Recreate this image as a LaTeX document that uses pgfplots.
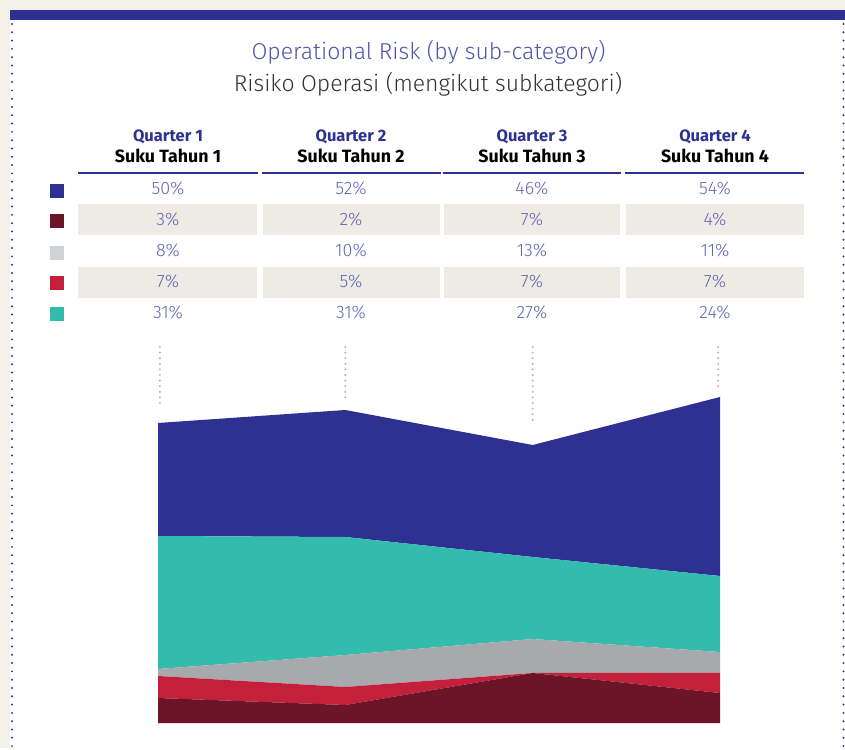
\documentclass[border=0pt]{standalone}
\usepackage{pgfplots}
\pgfplotsset{compat=1.18}
\usepackage{fontspec}
\setmainfont{Fira Sans}
\newfontfamily\lightfont{Fira Sans Light}
\newcommand\boldfont{\bfseries}

\definecolor{bgbeige}{HTML}{F3F0E7}
\definecolor{topblue}{HTML}{2E3192}
\definecolor{titleblue}{HTML}{5054AC}
\definecolor{pctblue}{HTML}{6367B4}
\definecolor{darktext}{HTML}{333333}
\definecolor{rowbeige}{HTML}{EEEBE5}
\definecolor{cmaroon}{HTML}{6C1529}
\definecolor{cred}{HTML}{C41F3B}
\definecolor{cgray}{HTML}{A7A9AC}
\definecolor{clgray}{HTML}{D1D2D4}
\definecolor{cteal}{HTML}{33BCAE}
\definecolor{dotgray}{HTML}{B4B4B4}

\begin{document}
\begin{tikzpicture}[x=1pt,y=1pt]
  % page and frame
  \fill[white] (0,0) rectangle (845,748);
  \fill[bgbeige] (0,738) rectangle (845,748);
  \fill[bgbeige] (0,0) rectangle (10,748);
  \fill[topblue] (10,727.5) rectangle (845,738);
  \draw[topblue, line width=2.2pt, line cap=round, dash pattern=on 0pt off 8.3pt] (12,724) -- (12,0);
  \draw[topblue, line width=2.2pt, line cap=round, dash pattern=on 0pt off 8.3pt] (843.5,724) -- (843.5,0);

  % titles
  \node[anchor=base, text=titleblue, font=\lightfont\fontsize{23}{26}\selectfont] at (428.5,688) {Operational Risk (by sub-category)};
  \node[anchor=base, text=darktext, font=\lightfont\fontsize{23}{26}\selectfont] at (428,656) {Risiko Operasi (mengikut subkategori)};

  % table header
  \foreach \cx/\q in {168/1,351/2,532/3,715/4} {
    \node[anchor=base, text=topblue, font=\boldfont\fontsize{16.5}{18}\selectfont] at (\cx,606) {Quarter \q};
    \node[anchor=base, text=black, font=\boldfont\fontsize{17.8}{20}\selectfont] at (\cx,585) {Suku Tahun \q};
  }
  \foreach \ra/\rb in {78/258,262/441,443/621,625/804}
    \fill[topblue] (\ra,574) rectangle (\rb,576);

  % shaded rows
  \foreach \ra/\rb in {78/257,263/440,444/620,626/804} {
    \fill[rowbeige] (\ra,513) rectangle (\rb,544);
    \fill[rowbeige] (\ra,450) rectangle (\rb,481);
  }

  % legend squares
  \fill[topblue] (50,550) rectangle (64,564);
  \fill[cmaroon] (50,519.5) rectangle (64,533.5);
  \fill[clgray]  (50,487.5) rectangle (64,501.5);
  \fill[cred]    (50,458) rectangle (64,472);
  \fill[cteal]   (50,427) rectangle (64,441);

  % percentages
  \tikzset{pct/.style={anchor=base, text=pctblue, font=\lightfont\fontsize{18}{20}\selectfont}}
  \foreach \cx/\va/\vb/\vc/\vd/\ve in {168/50/3/8/7/31, 351/52/2/10/5/31, 532/46/7/13/7/27, 715/54/4/11/7/24} {
    \node[pct] at (\cx,553) {\va\%};
    \node[pct] at (\cx,522) {\vb\%};
    \node[pct] at (\cx,491) {\vc\%};
    \node[pct] at (\cx,460) {\vd\%};
    \node[pct] at (\cx,429) {\ve\%};
  }

  \begin{axis}[
      at={(158pt,25pt)}, anchor=south west,
      scale only axis, width=562pt, height=376pt,
      xmin=0, xmax=3, ymin=0, ymax=376,
      hide axis, clip=false,
      stack plots=y,
    ]
    % layer thicknesses (pixels)
    \addplot[fill=cmaroon, draw=none] coordinates {(0,25) (1,18) (2,50) (3,30)} \closedcycle;
    \addplot[fill=cred, draw=none] coordinates {(0,22) (1,18) (2,0) (3,20)} \closedcycle;
    \addplot[fill=cgray, draw=none] coordinates {(0,7) (1,32) (2,34) (3,21)} \closedcycle;
    \addplot[fill=cteal, draw=none] coordinates {(0,133) (1,118) (2,82) (3,76)} \closedcycle;
    \addplot[fill=topblue, draw=none] coordinates {(0,113) (1,127) (2,112) (3,179)} \closedcycle;

    \tikzset{guide/.style={dotgray, line width=2.2pt, line cap=round, dash pattern=on 0pt off 5.6pt}}
    \draw[guide] (axis cs:0.01,376) -- (axis cs:0.01,319);
    \draw[guide] (axis cs:1,376) -- (axis cs:1,322);
    \draw[guide] (axis cs:2,376) -- (axis cs:2,303);
    \draw[guide] (axis cs:2.99,376) -- (axis cs:2.99,332);
  \end{axis}
\end{tikzpicture}
\end{document}
